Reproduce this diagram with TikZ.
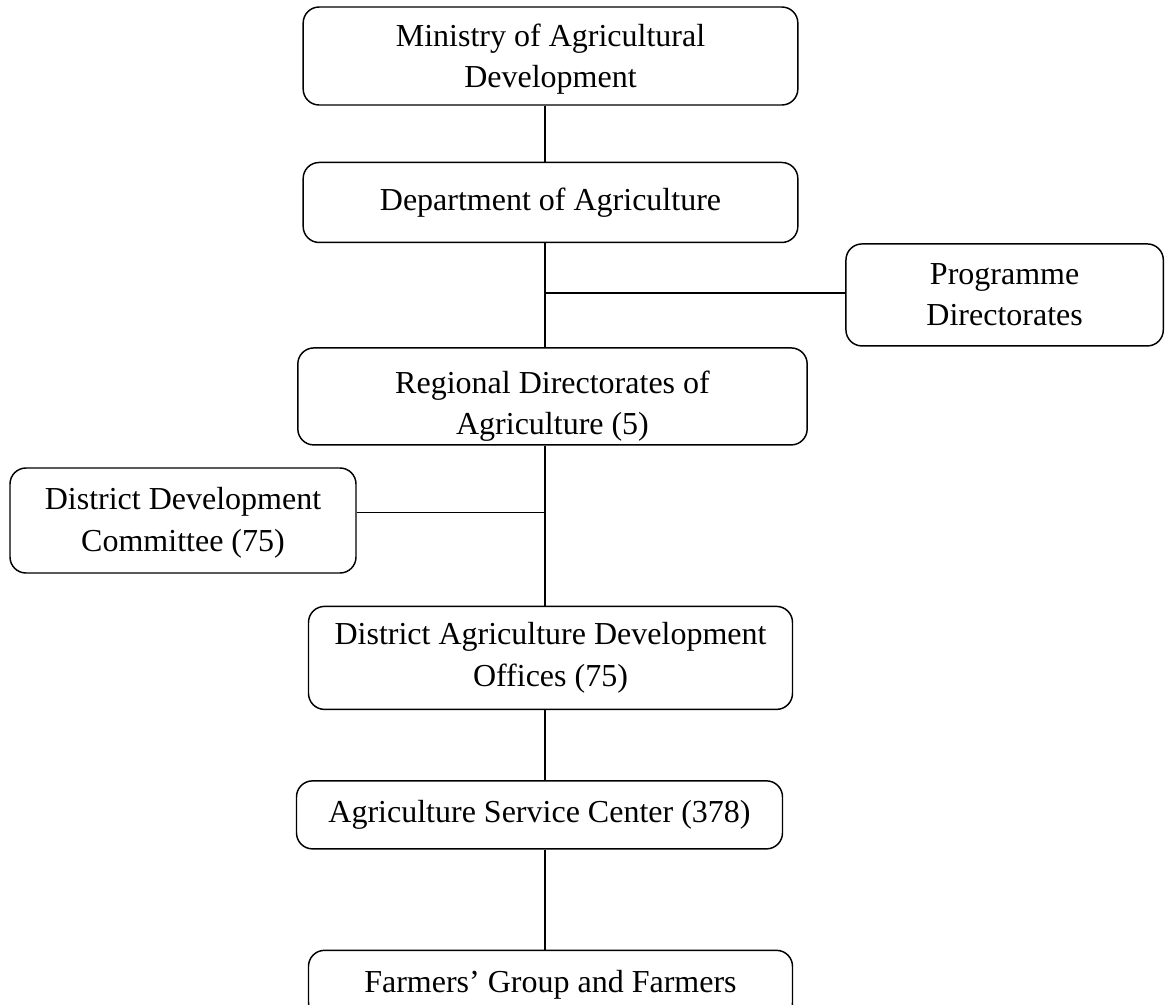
\documentclass[tikz,border=0pt]{standalone}
\usepackage{fontspec}
\setmainfont{Liberation Serif}
\usetikzlibrary{positioning}

\newcommand{\topgap}[1]{\rule{0pt}{#1}}

\begin{document}
\begin{tikzpicture}[x=0.75pt, y=-0.75pt,
    box/.style={draw, rounded corners=12pt, line width=1.1pt, align=center,
                inner sep=0pt, font=\fontsize{24}{31}\selectfont},
    link/.style={line width=1pt}]
    \useasboundingbox (0,0) rectangle (1168,1004);
    \coordinate (spine) at (545,0);

    %define the offices
    \node[box, minimum width=371pt, minimum height=73.5pt] (min) at (550.5,56)
        {\topgap{22pt}Ministry of Agricultural\\Development};
    \node[box, minimum width=371pt, minimum height=60pt]   (dept) [below=42pt of min]
        {Department of Agriculture};
    \node[box, minimum width=238pt, minimum height=76.5pt] (prog) [below right=0pt and 35pt of dept]
        {Programme\\Directorates};
    \node[box, minimum width=382pt, minimum height=72.75pt] (reg) [below=78pt of dept, xshift=1.5pt]
        {\topgap{32pt}Regional Directorates of\\Agriculture (5)};
    \node[box, minimum width=259.5pt, minimum height=78.75pt] (ddc) at (183,520.5)
        {\topgap{20pt}District Development\\Committee (75)};
    \node[box, minimum width=363pt, minimum height=77.25pt] (dado) [below=120pt of reg, xshift=-1.5pt]
        {District Agriculture Development\\Offices (75)};
    \node[box, minimum width=364.5pt, minimum height=51pt] (asc) [below=52.5pt of dado, xshift=-8.25pt]
        {Agriculture Service Center (378)};
    \node[box, minimum width=363pt, minimum height=51pt]   (far) [below=75pt of asc, xshift=8.25pt]
        {Farmers’ Group and Farmers};

    %define the links
    \path[link] (min.south -| spine)  edge (dept.north -| spine)
                (dept.south -| spine) edge (reg.north -| spine)
                (reg.south -| spine)  edge (dado.north -| spine)
                (dado.south -| spine) edge (asc.north -| spine)
                (asc.south -| spine)  edge (far.north -| spine)
                ([yshift=1.5pt]prog.west) edge ([yshift=1.5pt]prog.west -| spine)
                ([yshift=6pt]ddc.east)    edge ([yshift=6pt]ddc.east -| spine);
\end{tikzpicture}
\end{document}
